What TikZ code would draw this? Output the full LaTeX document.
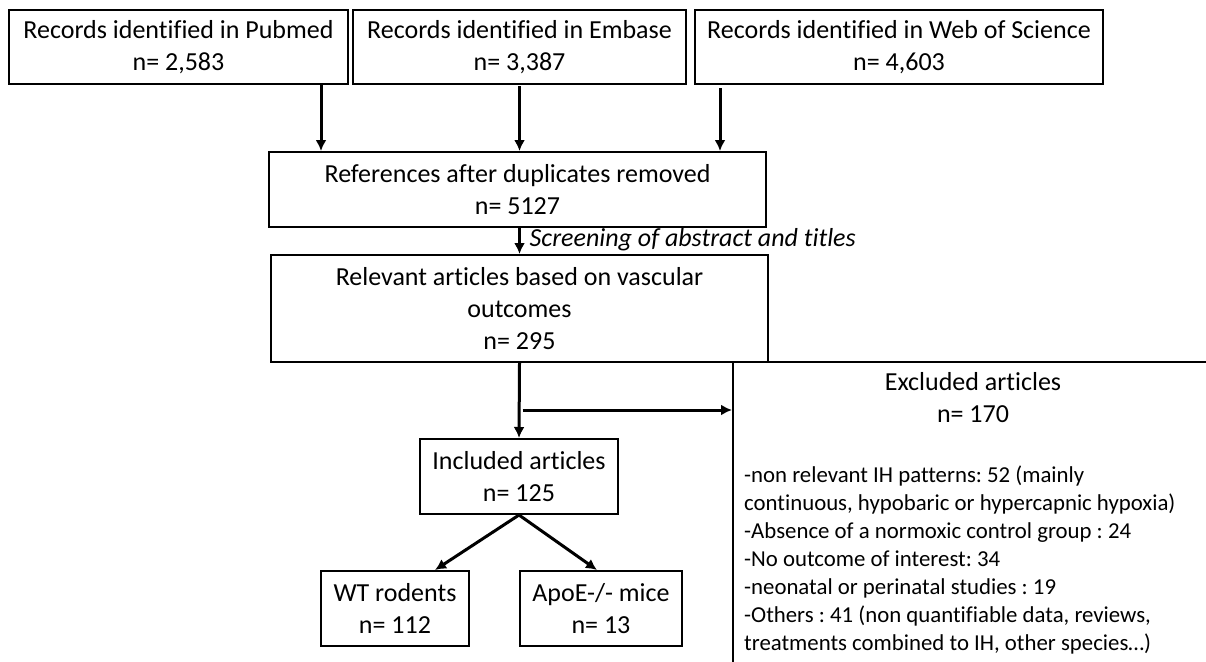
\documentclass[tikz,border=0pt]{standalone}
\usepackage{fontspec}
\setmainfont{Carlito}[Ligatures=NoCommon]
\usetikzlibrary{positioning,arrows.meta}
\frenchspacing

\tikzset{
	box/.style={shape=rectangle, draw, line width=2pt, align=center, inner sep=0pt, font=\fontsize{26}{32}\selectfont},
	flow/.style={line width=3pt, -{Latex[length=11pt,width=11pt]}},
}

\begin{document}
\begin{tikzpicture}[x=1pt, y=-1pt]
	\useasboundingbox (0,0) rectangle (1206,661);
	\clip (0,0) rectangle (1206,661);
	% sources
	\node[box, minimum width=339pt, minimum height=74pt](pubmed) at (178.5, 47){Records identified in Pubmed\\n= 2,583};
	\node[box, minimum width=333pt, minimum height=74pt](embase) at (519.5, 47){Records identified in Embase\\n= 3,387};
	\node[box, minimum width=408pt, minimum height=74pt](wos) at (899, 47){Records identified in Web of Science\\n= 4,603};
	\node[box, minimum width=497pt, minimum height=75pt](refs) at (517.5, 189.5){References after duplicates removed\\n= 5127};
	\coordinate (pubout) at ([xshift=142.5pt]pubmed.south);
	\coordinate (embout) at ([yshift=-1pt]embase.south);
	\coordinate (wosout) at ([xshift=-179pt, yshift=-3pt]wos.south);
	\draw[flow] (pubout) -- (pubout |- refs.north);
	\draw[flow] (embout) -- (embout |- refs.north);
	\draw[flow] (wosout) -- (wosout |- refs.north);
	% screening
	\node[box, minimum width=497pt, minimum height=107pt](relevant) at (519.5, 308.5){Relevant articles based on vascular\\outcomes\\n= 295};
	\draw[flow] (relevant.north |- refs.south) -- (relevant.north);
	\node[anchor=base west, inner sep=0pt, font=\fontsize{26}{32}\selectfont\itshape](screenlbl) at ([xshift=10pt, yshift=8pt]relevant.north){Screening of abstract and titles};
	% exclusion
	\node[box, minimum width=480pt, minimum height=330pt](excluded) at (973, 527){};
	\node[anchor=north, align=center, inner sep=0pt, font=\fontsize{26}{31.5}\selectfont](exclhead) at ([yshift=-11.5pt]excluded.north){Excluded articles\\n= 170};
	\node[anchor=north west, align=left, inner sep=0pt, font=\fontsize{22.8}{28}\selectfont](excllist) at ([xshift=12pt, yshift=-105pt]excluded.north west){-non relevant IH patterns: 52 (mainly\\continuous, hypobaric or hypercapnic hypoxia)\\-Absence of a normoxic control group : 24\\-No outcome of interest: 34\\-neonatal or perinatal studies : 19\\-Others : 41 (non quantifiable data, reviews,\\treatments combined to IH, other species\ldots)};
	% inclusion
	\node[box, minimum width=198pt, minimum height=75pt](included) at (519, 476.5){Included articles\\n= 125};
	\node[box, minimum width=148pt, minimum height=75pt](wt) at (395, 608.5){WT rodents\\n= 112};
	\node[box, minimum width=162pt, minimum height=75pt](apoe) at (601, 608.5){ApoE-/- mice\\n= 13};
	\coordinate (split) at ([xshift=3pt, yshift=-47pt]relevant.south);
	\draw[flow] (relevant.south) -- (included.north);
	\draw[flow] (split) -- (split -| excluded.west);
	\draw[flow] (included.south) -- ([xshift=40pt]wt.north);
	\draw[flow] (included.south) -- ([xshift=-4pt]apoe.north);
\end{tikzpicture}
\end{document}
